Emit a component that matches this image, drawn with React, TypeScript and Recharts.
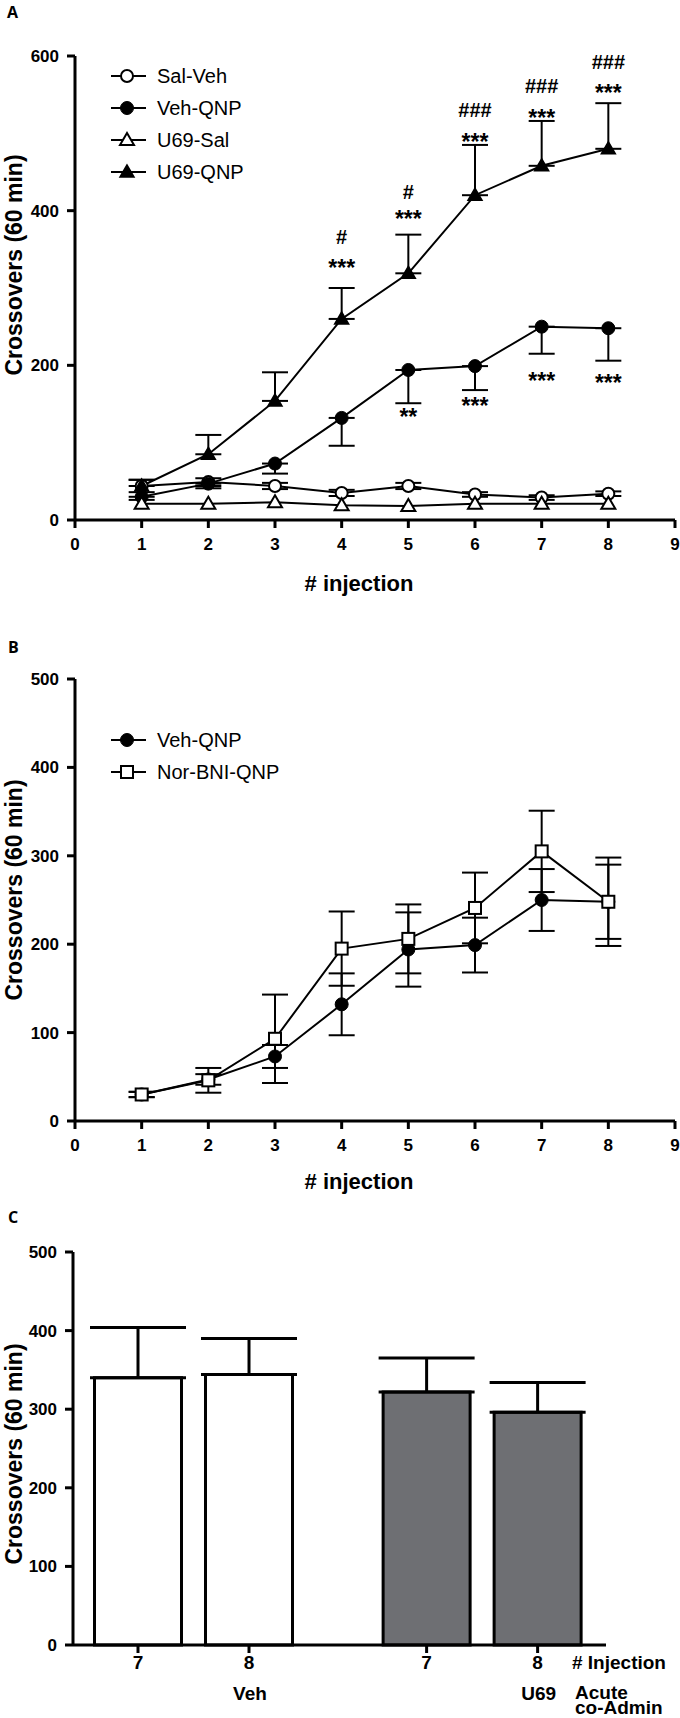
import React from 'react';
import { ComposedChart, Line, Scatter, XAxis, YAxis, ErrorBar, Bar, Legend, Cell } from 'recharts';

const FONT = '"Liberation Sans", Arial, Helvetica, sans-serif';

// ---------- Panel A ----------
const injections = [1, 2, 3, 4, 5, 6, 7, 8];
const salVeh = [44, 49, 44, 35, 44, 33, 29, 34];
const salVehSem = [8, 5, 4, 4, 4, 3, 3, 3];
const vehQnp = [30, 47, 73, 132, 194, 199, 250, 248];
const vehQnpSemA = [4, 6, 13, 36, 43, 31, 35, 42];
const u69Sal = [21, 21, 23, 19, 18, 21, 21, 21];
const u69Qnp = [44, 85, 154, 260, 319, 420, 458, 480];
const u69QnpSem = [8, 25, 37, 40, 50, 65, 58, 59];
const xTicksAB = [0, 1, 2, 3, 4, 5, 6, 7, 8, 9];
const yTicksA = [0, 200, 400, 600];
const seriesNamesA = ['Sal-Veh', 'Veh-QNP', 'U69-Sal', 'U69-QNP'];

const annotationsA = [
  { x: 4, y: 366, text: '#' },
  { x: 4, y: 333, text: '***' },
  { x: 5, y: 425, text: '#' },
  { x: 5, y: 396, text: '***' },
  { x: 6, y: 530, text: '###' },
  { x: 6, y: 495, text: '***' },
  { x: 7, y: 562, text: '###' },
  { x: 7, y: 526, text: '***' },
  { x: 8, y: 592, text: '###' },
  { x: 8, y: 559, text: '***' },
  { x: 5, y: 140, text: '**' },
  { x: 6, y: 154, text: '***' },
  { x: 7, y: 186, text: '***' },
  { x: 8, y: 184, text: '***' },
];

// ---------- Panel B ----------
const vehQnpSemB = [3, 6, 13, 35, 42, 31, 35, 42];
const norBniQnp = [30, 46, 93, 195, 206, 241, 305, 248];
const norBniQnpSem = [3, 14, 50, 42, 39, 40, 46, 50];
const yTicksBC = [0, 100, 200, 300, 400, 500];
const seriesNamesB = ['Veh-QNP', 'Nor-BNI-QNP'];

// ---------- Panel C ----------
const injectionC = ['7', '8', '7', '8'];
const groupC = ['Veh', 'Veh', 'U69', 'U69'];
const crossC = [340, 344, 322, 296];
const crossCSem = [64, 46, 43, 38];
const groupFill = { Veh: '#ffffff', U69: '#6e6f73' } as Record<string, string>;
const GROUP_GAP = 0.6;

const dataA = injections.map((x, i) => ({
  x,
  salVeh: salVeh[i],
  salVehErr: [salVehSem[i], salVehSem[i]],
  vehQnp: vehQnp[i],
  vehQnpErr: [vehQnpSemA[i], 0],
  u69Sal: u69Sal[i],
  u69Qnp: u69Qnp[i],
  u69QnpErr: [0, u69QnpSem[i]],
}));

const dataB = injections.map((x, i) => ({
  x,
  vehQnp: vehQnp[i],
  vehQnpErr: [vehQnpSemB[i], vehQnpSemB[i]],
  norBni: norBniQnp[i],
  norBniErr: [norBniQnpSem[i], norBniQnpSem[i]],
}));

const dataC = crossC.map((v, i) => ({
  pos: i + 1 + (i >= 2 ? GROUP_GAP : 0),
  value: v,
  err: [0, crossCSem[i]],
  group: groupC[i],
}));

// ---------- markers ----------
type Kind = 'openCircle' | 'circle' | 'openTriangle' | 'triangle' | 'openSquare';

const Marker = ({ cx, cy, kind }: { cx: number; cy: number; kind: Kind }) => {
  if (cx == null || cy == null) return null;
  switch (kind) {
    case 'openCircle':
      return <circle cx={cx} cy={cy} r={6} fill="#fff" stroke="#000" strokeWidth={2} />;
    case 'circle':
      return <circle cx={cx} cy={cy} r={6.5} fill="#000" stroke="#000" strokeWidth={1} />;
    case 'openTriangle':
      return (
        <polygon
          points={`${cx},${cy - 7} ${cx - 7},${cy + 5} ${cx + 7},${cy + 5}`}
          fill="#fff"
          stroke="#000"
          strokeWidth={2}
        />
      );
    case 'triangle':
      return (
        <polygon
          points={`${cx},${cy - 7} ${cx - 7},${cy + 5} ${cx + 7},${cy + 5}`}
          fill="#000"
          stroke="#000"
          strokeWidth={1.5}
        />
      );
    case 'openSquare':
      return <rect x={cx - 6} y={cy - 6} width={12} height={12} fill="#fff" stroke="#000" strokeWidth={2} />;
  }
  return null;
};

const dotFn = (kind: Kind) => (props: any) => (
  <Marker key={`${kind}-${props.index}`} cx={props.cx} cy={props.cy} kind={kind} />
);

const LegendBox = ({ names, kinds }: { names: string[]; kinds: Kind[] }) => (
  <div style={{ fontFamily: FONT, fontSize: 20, color: '#000' }}>
    {names.map((n, i) => (
      <div key={n} style={{ display: 'flex', alignItems: 'center', height: 32 }}>
        <svg width={40} height={32} style={{ display: 'block' }}>
          <line x1={3} y1={16} x2={38} y2={16} stroke="#000" strokeWidth={2} />
          <Marker cx={19} cy={16} kind={kinds[i]} />
        </svg>
        <span style={{ marginLeft: 9, whiteSpace: 'nowrap' }}>{n}</span>
      </div>
    ))}
  </div>
);

const AnnotShape = (props: any) => {
  const { cx, cy, payload } = props;
  const isStar = payload.text.indexOf('*') >= 0;
  const fs = isStar ? 23 : 20;
  const base = isStar ? cy + 0.57 * fs : cy + 0.36 * fs;
  return (
    <text x={cx} y={base} textAnchor="middle" fontFamily={FONT} fontWeight={700} fontSize={fs} fill="#000">
      {payload.text}
    </text>
  );
};

const axisLine = { stroke: '#000', strokeWidth: 3 };
const tickStyle = { fill: '#000', fontSize: 17, fontWeight: 700, fontFamily: FONT };

const yTitle = (cx: number, cy: number) => () => (
  <text
    x={cx}
    y={cy}
    transform={`rotate(-90 ${cx} ${cy})`}
    textAnchor="middle"
    dominantBaseline="central"
    fontFamily={FONT}
    fontWeight={700}
    fontSize={23}
    fill="#000"
  >
    Crossovers (60 min)
  </text>
);

const xTitle = (cx: number, base: number) => () => (
  <text x={cx} y={base} textAnchor="middle" fontFamily={FONT} fontWeight={700} fontSize={22} fill="#000">
    # injection
  </text>
);

const CTick = (props: any) => {
  const { x, y, index } = props;
  const last = injectionC.length - 1;
  const common = { fontFamily: FONT, fontWeight: 700, fontSize: 19, fill: '#000' };
  return (
    <g>
      <text x={x} y={y + 16} textAnchor="middle" {...common}>
        {injectionC[index]}
      </text>
      {index % 2 === 1 && (
        <text x={x + 1} y={y + 47} textAnchor="middle" {...common}>
          {groupC[index]}
        </text>
      )}
      {index === last && (
        <g>
          <text x={572} y={y + 16} textAnchor="start" {...common}>
            # Injection
          </text>
          <text x={575} y={y + 46} textAnchor="start" {...common}>
            Acute
          </text>
          <text x={575} y={y + 61} textAnchor="start" {...common}>
            co-Admin
          </text>
        </g>
      )}
    </g>
  );
};

export default function App() {
  return (
    <div style={{ position: 'absolute', left: 0, top: 0, width: 680, height: 1718, background: '#fff' }}>
      <svg width={680} height={1718} style={{ position: 'absolute', left: 0, top: 0, pointerEvents: 'none' }}>
        <text x={7} y={18} fontFamily='"Open Sans", sans-serif' fontWeight={700} fontSize={16} fill="#000">A</text>
        <text x={8} y={653} fontFamily='"Open Sans", sans-serif' fontWeight={700} fontSize={16} fill="#000">B</text>
        <text x={8} y={1223} fontFamily='"Open Sans", sans-serif' fontWeight={700} fontSize={16} fill="#000">C</text>
      </svg>

      {/* Panel A */}
      <div style={{ position: 'absolute', left: 0, top: 0 }}>
        <ComposedChart width={680} height={600} data={dataA} margin={{ top: 56, right: 5, bottom: 50, left: 15 }}>
          <XAxis
            type="number"
            dataKey="x"
            domain={[0, 9]}
            ticks={xTicksAB}
            interval={0}
            height={30}
            axisLine={axisLine}
            tickLine={axisLine}
            tickSize={8}
            tickMargin={10}
            tick={tickStyle}
            label={xTitle(359, 591)}
          />
          <YAxis
            type="number"
            domain={[0, 600]}
            ticks={yTicksA}
            interval={0}
            width={60}
            axisLine={axisLine}
            tickLine={axisLine}
            tickSize={8}
            tickMargin={8}
            tick={tickStyle}
            label={yTitle(14, 265)}
          />
          <Legend
            layout="horizontal"
            verticalAlign="middle"
            align="center"
            wrapperStyle={{ left: 108, top: 60, width: 200 }}
            content={() => (
              <LegendBox names={seriesNamesA} kinds={['openCircle', 'circle', 'openTriangle', 'triangle']} />
            )}
          />
          <Line dataKey="salVeh" name={seriesNamesA[0]} stroke="#000" strokeWidth={2} dot={dotFn('openCircle')} isAnimationActive={false}>
            <ErrorBar dataKey="salVehErr" direction="y" width={13} stroke="#000" strokeWidth={2} />
          </Line>
          <Line dataKey="vehQnp" name={seriesNamesA[1]} stroke="#000" strokeWidth={2} dot={dotFn('circle')} isAnimationActive={false}>
            <ErrorBar dataKey="vehQnpErr" direction="y" width={13} stroke="#000" strokeWidth={2} />
          </Line>
          <Line dataKey="u69Sal" name={seriesNamesA[2]} stroke="#000" strokeWidth={2} dot={dotFn('openTriangle')} isAnimationActive={false} />
          <Line dataKey="u69Qnp" name={seriesNamesA[3]} stroke="#000" strokeWidth={2} dot={dotFn('triangle')} isAnimationActive={false}>
            <ErrorBar dataKey="u69QnpErr" direction="y" width={13} stroke="#000" strokeWidth={2} />
          </Line>
          <Scatter data={annotationsA} dataKey="y" shape={AnnotShape} legendType="none" isAnimationActive={false} />
        </ComposedChart>
      </div>

      {/* Panel B */}
      <div style={{ position: 'absolute', left: 0, top: 620 }}>
        <ComposedChart width={680} height={580} data={dataB} margin={{ top: 59, right: 5, bottom: 49, left: 15 }}>
          <XAxis
            type="number"
            dataKey="x"
            domain={[0, 9]}
            ticks={xTicksAB}
            interval={0}
            height={30}
            axisLine={axisLine}
            tickLine={axisLine}
            tickSize={8}
            tickMargin={10}
            tick={tickStyle}
            label={xTitle(359, 569)}
          />
          <YAxis
            type="number"
            domain={[0, 500]}
            ticks={yTicksBC}
            interval={0}
            width={60}
            axisLine={axisLine}
            tickLine={axisLine}
            tickSize={8}
            tickMargin={8}
            tick={tickStyle}
            label={yTitle(14, 270)}
          />
          <Legend
            layout="horizontal"
            verticalAlign="middle"
            align="center"
            wrapperStyle={{ left: 108, top: 104, width: 220 }}
            content={() => <LegendBox names={seriesNamesB} kinds={['circle', 'openSquare']} />}
          />
          <Line dataKey="vehQnp" name={seriesNamesB[0]} stroke="#000" strokeWidth={2} dot={dotFn('circle')} isAnimationActive={false}>
            <ErrorBar dataKey="vehQnpErr" direction="y" width={13} stroke="#000" strokeWidth={2} />
          </Line>
          <Line dataKey="norBni" name={seriesNamesB[1]} stroke="#000" strokeWidth={2} dot={dotFn('openSquare')} isAnimationActive={false}>
            <ErrorBar dataKey="norBniErr" direction="y" width={13} stroke="#000" strokeWidth={2} />
          </Line>
        </ComposedChart>
      </div>

      {/* Panel C */}
      <div style={{ position: 'absolute', left: 0, top: 1200 }}>
        <ComposedChart width={680} height={518} data={dataC} margin={{ top: 52, right: 74, bottom: 43, left: 13 }}>
          <XAxis
            type="number"
            dataKey="pos"
            domain={[0.4144, 5.216]}
            ticks={dataC.map((d) => d.pos)}
            interval={0}
            height={30}
            axisLine={axisLine}
            tickLine={axisLine}
            tickSize={8}
            tickMargin={0}
            tick={<CTick />}
            allowDataOverflow
          />
          <YAxis
            type="number"
            domain={[0, 500]}
            ticks={yTicksBC}
            interval={0}
            width={60}
            axisLine={axisLine}
            tickLine={axisLine}
            tickSize={8}
            tickMargin={8}
            tick={tickStyle}
            label={yTitle(14, 254)}
          />
          <Bar dataKey="value" barSize={87} stroke="#000" strokeWidth={3} isAnimationActive={false}>
            {dataC.map((d, i) => (
              <Cell key={i} fill={groupFill[d.group]} />
            ))}
            <ErrorBar dataKey="err" direction="y" width={48} stroke="#000" strokeWidth={3} />
          </Bar>
        </ComposedChart>
      </div>
    </div>
  );
}
